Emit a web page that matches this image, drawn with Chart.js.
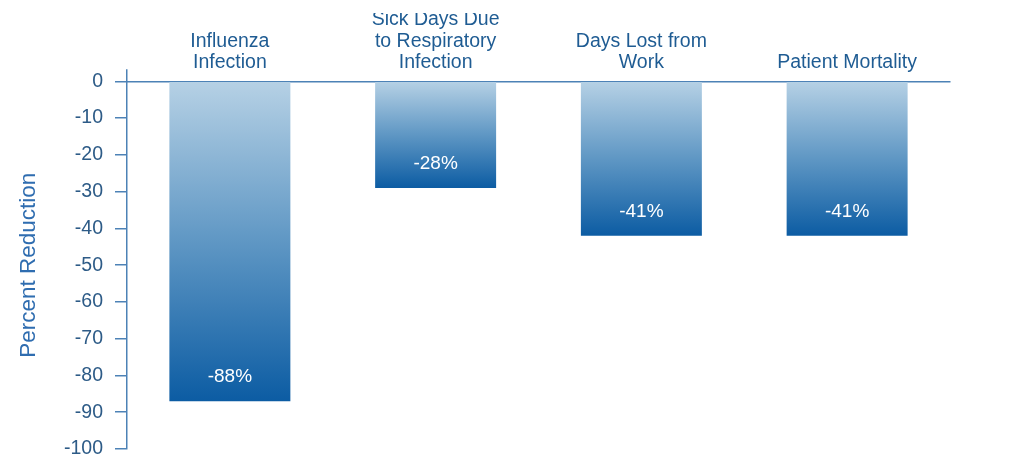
<!DOCTYPE html>
<html>
<head>
<meta charset="utf-8">
<script src="https://cdn.jsdelivr.net/npm/chart.js@4"></script>
<style>
  html, body { margin: 0; padding: 0; background: #fff; }
  #wrap { width: 1024px; height: 469px; }
</style>
</head>
<body>
<div id="wrap"><canvas id="c"></canvas></div>
<script>
// categories, bar heights as drawn, and the printed labels
const categories = [
  ["Influenza", "Infection"],
  ["Sick Days Due", "to Respiratory", "Infection"],
  ["Days Lost from", "Work"],
  "Patient Mortality",
];
const barValues = [-87, -29, -42, -42];
const valueLabels = ["-88%", "-28%", "-41%", "-41%"];
const yMin = -100, yMax = 0, yStep = 10;

const FONT = "'Liberation Sans', Arial, Helvetica, sans-serif";
const axisColor = "#4d82b6";

function barGradient(ctx) {
  const chart = ctx.chart;
  const y = chart.scales.y;
  if (!chart.chartArea || !y || ctx.dataIndex == null) return "#4f8dc0";
  const y0 = y.getPixelForValue(0);
  const y1 = y.getPixelForValue(barValues[ctx.dataIndex]);
  const g = chart.ctx.createLinearGradient(0, y0, 0, y1);
  g.addColorStop(0, "#b6d1e5");
  g.addColorStop(0.5, "#5f97c4");
  g.addColorStop(1, "#0c5ca3");
  return g;
}

const valueLabelPlugin = {
  id: "valueLabels",
  afterDatasetsDraw(chart) {
    const c = chart.ctx;
    const meta = chart.getDatasetMeta(0);
    c.save();
    c.fillStyle = "#ffffff";
    c.font = "19px " + FONT;
    c.textAlign = "center";
    c.textBaseline = "middle";
    meta.data.forEach((bar, i) => {
      c.fillText(valueLabels[i], bar.x, bar.y - 24);
    });
    c.restore();
  }
};

new Chart(document.getElementById("c"), {
  type: "bar",
  data: {
    labels: categories,
    datasets: [{
      data: barValues,
      backgroundColor: barGradient,
      borderWidth: 0,
      barPercentage: 1,
      categoryPercentage: 0.588,
    }],
  },
  options: {
    responsive: true,
    maintainAspectRatio: false,
    animation: false,
    layout: { padding: { left: 0, right: 74, top: 13, bottom: 20 } },
    plugins: { legend: { display: false }, tooltip: { enabled: false } },
    scales: {
      x: {
        position: "top",
        border: { display: true, color: axisColor, width: 1.5 },
        grid: {
          drawOnChartArea: false,
          drawTicks: true,
          tickLength: 12,
          lineWidth: 1.5,
          color: ctx => ctx.index === 0 ? axisColor : "rgba(0,0,0,0)",
        },
        ticks: {
          color: "#1f5c93",
          font: { family: FONT, size: 19.5, lineHeight: 1.1 },
          padding: -4,
          maxRotation: 0,
          autoSkip: false,
        },
      },
      y: {
        min: yMin,
        max: yMax,
        afterFit(scale) {
          scale.width = 127;
          scale.paddingTop = 0;
          scale.paddingBottom = 0;
        },
        border: { display: true, color: axisColor, width: 1.5 },
        grid: {
          drawOnChartArea: false,
          drawTicks: true,
          tickLength: 12,
          lineWidth: 1.5,
          color: axisColor,
        },
        ticks: {
          stepSize: yStep,
          color: "#2d5b87",
          font: { family: FONT, size: 19.5 },
          padding: 12,
        },
        title: {
          display: true,
          text: "Percent Reduction",
          color: "#2f6db0",
          font: { family: FONT, size: 22.5 },
          padding: { top: 15, bottom: 0 },
        },
      },
    },
  },
  plugins: [valueLabelPlugin],
});
</script>
</body>
</html>
